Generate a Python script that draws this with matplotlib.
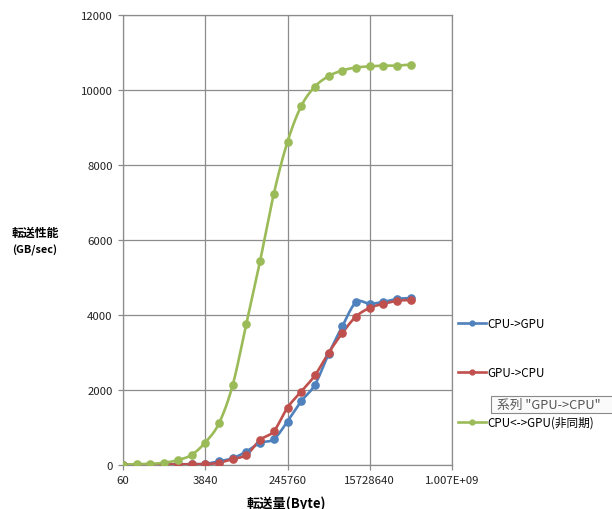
import numpy as np
import matplotlib
matplotlib.use('Agg')
from matplotlib import pyplot as plt
from matplotlib.patches import Rectangle

plt.rcParams['font.family'] = ['Noto Sans CJK JP', 'DejaVu Sans']

# transfer sizes: 60 bytes doubling up to 60 * 2^21
sizes = [60 * 2 ** k for k in range(22)]

cpu_to_gpu = [0, 5, 10, 15, 20, 25, 30, 100, 180, 360, 590, 690,
              1160, 1700, 2140, 2960, 3700, 4340, 4300, 4350, 4430, 4450]
gpu_to_cpu = [0, 5, 10, 12, 15, 18, 20, 60, 160, 270, 670, 900,
              1530, 1960, 2390, 2990, 3520, 3960, 4190, 4300, 4380, 4400]
cpu_gpu_async = [10, 20, 30, 60, 130, 270, 600, 1110, 2130, 3770, 5440, 7230,
                 8620, 9570, 10090, 10370, 10520, 10600, 10630, 10650, 10650, 10680]

series = [
    ('CPU->GPU', cpu_to_gpu, '#4F81BD'),
    ('GPU->CPU', gpu_to_cpu, '#C0504D'),
    ('CPU<->GPU(非同期)', cpu_gpu_async, '#9BBB59'),
]

tick_values = [60 * 64 ** i for i in range(5)]
tick_labels = ['60', '3840', '245760', '15728640', '1.007E+09']


def smooth(xs, ys, steps=12):
    """Catmull-Rom curve through the points, in log2(x) space"""
    u = np.log2(np.array(xs, dtype=float))
    v = np.array(ys, dtype=float)
    pu = np.concatenate([[2 * u[0] - u[1]], u, [2 * u[-1] - u[-2]]])
    pv = np.concatenate([[2 * v[0] - v[1]], v, [2 * v[-1] - v[-2]]])
    out_u, out_v = [], []
    t = np.linspace(0, 1, steps, endpoint=False)
    for i in range(1, len(pu) - 2):
        for p, out in ((pu, out_u), (pv, out_v)):
            p0, p1, p2, p3 = p[i - 1], p[i], p[i + 1], p[i + 2]
            out.extend(0.5 * ((2 * p1) + (-p0 + p2) * t
                              + (2 * p0 - 5 * p1 + 4 * p2 - p3) * t ** 2
                              + (-p0 + 3 * p1 - 3 * p2 + p3) * t ** 3))
    out_u.append(u[-1])
    out_v.append(v[-1])
    return 2 ** np.array(out_u), np.array(out_v)


fig = plt.figure(figsize=(6.12, 5.10), dpi=100)
ax = fig.add_axes([123 / 612, 1 - 466 / 510, 329 / 612, 450 / 510])

for name, values, color in series:
    sx, sy = smooth(sizes, values)
    ax.plot(sx, sy, color=color, lw=1.9, solid_capstyle='round', zorder=3)
    ax.plot(sizes, values, 'o', color=color, ms=5.2, zorder=4)
    ax.plot([], [], '-o', color=color, lw=1.9, ms=3.5, label=name)

ax.set_xscale('log', base=2)
ax.set_xlim(60, 60 * 2 ** 24)
ax.set_xticks(tick_values)
ax.set_xticklabels(tick_labels)
ax.minorticks_off()
ax.set_ylim(0, 12000)
ax.set_yticks(range(0, 12001, 2000))

grid_color = '#8c8c8c'
ax.grid(True, color=grid_color, lw=0.9)
ax.set_axisbelow(True)
for sp in ax.spines.values():
    sp.set_color(grid_color)
    sp.set_linewidth(0.9)
ax.tick_params(direction='out', length=3.5, width=0.9, color=grid_color,
               labelsize=8.2, labelcolor='#222222', pad=4)

fig.text(35 / 612, 1 - 233 / 510, '転送性能', fontsize=8.6, fontweight='bold',
         ha='center', va='center')
fig.text(35 / 612, 1 - 250 / 510, '(GB/sec)', fontsize=7.8, fontweight='bold',
         ha='center', va='center')
fig.text(286 / 612, 1 - 504 / 510, '転送量(Byte)', fontsize=9.5, fontweight='bold',
         ha='center', va='center')

fig.legend(loc='upper left', bbox_to_anchor=(458 / 612, 1 - 318 / 510),
           frameon=False, fontsize=8.4, handlelength=2.4, handletextpad=0.1,
           labelspacing=3.12, borderpad=0, borderaxespad=0)

# hover tip box running off the right edge
fig.add_artist(Rectangle((491 / 612, 1 - 414 / 510), 130 / 612, 17 / 510,
                         transform=fig.transFigure, fc='#fafafa', ec='#8a8a8a',
                         lw=0.8, zorder=5))
fig.text(497 / 612, 1 - 405.5 / 510, '系列 "GPU->CPU"', fontsize=9.2,
         color='#555555', ha='left', va='center', zorder=6)

fig.savefig('out.png', dpi=100)
